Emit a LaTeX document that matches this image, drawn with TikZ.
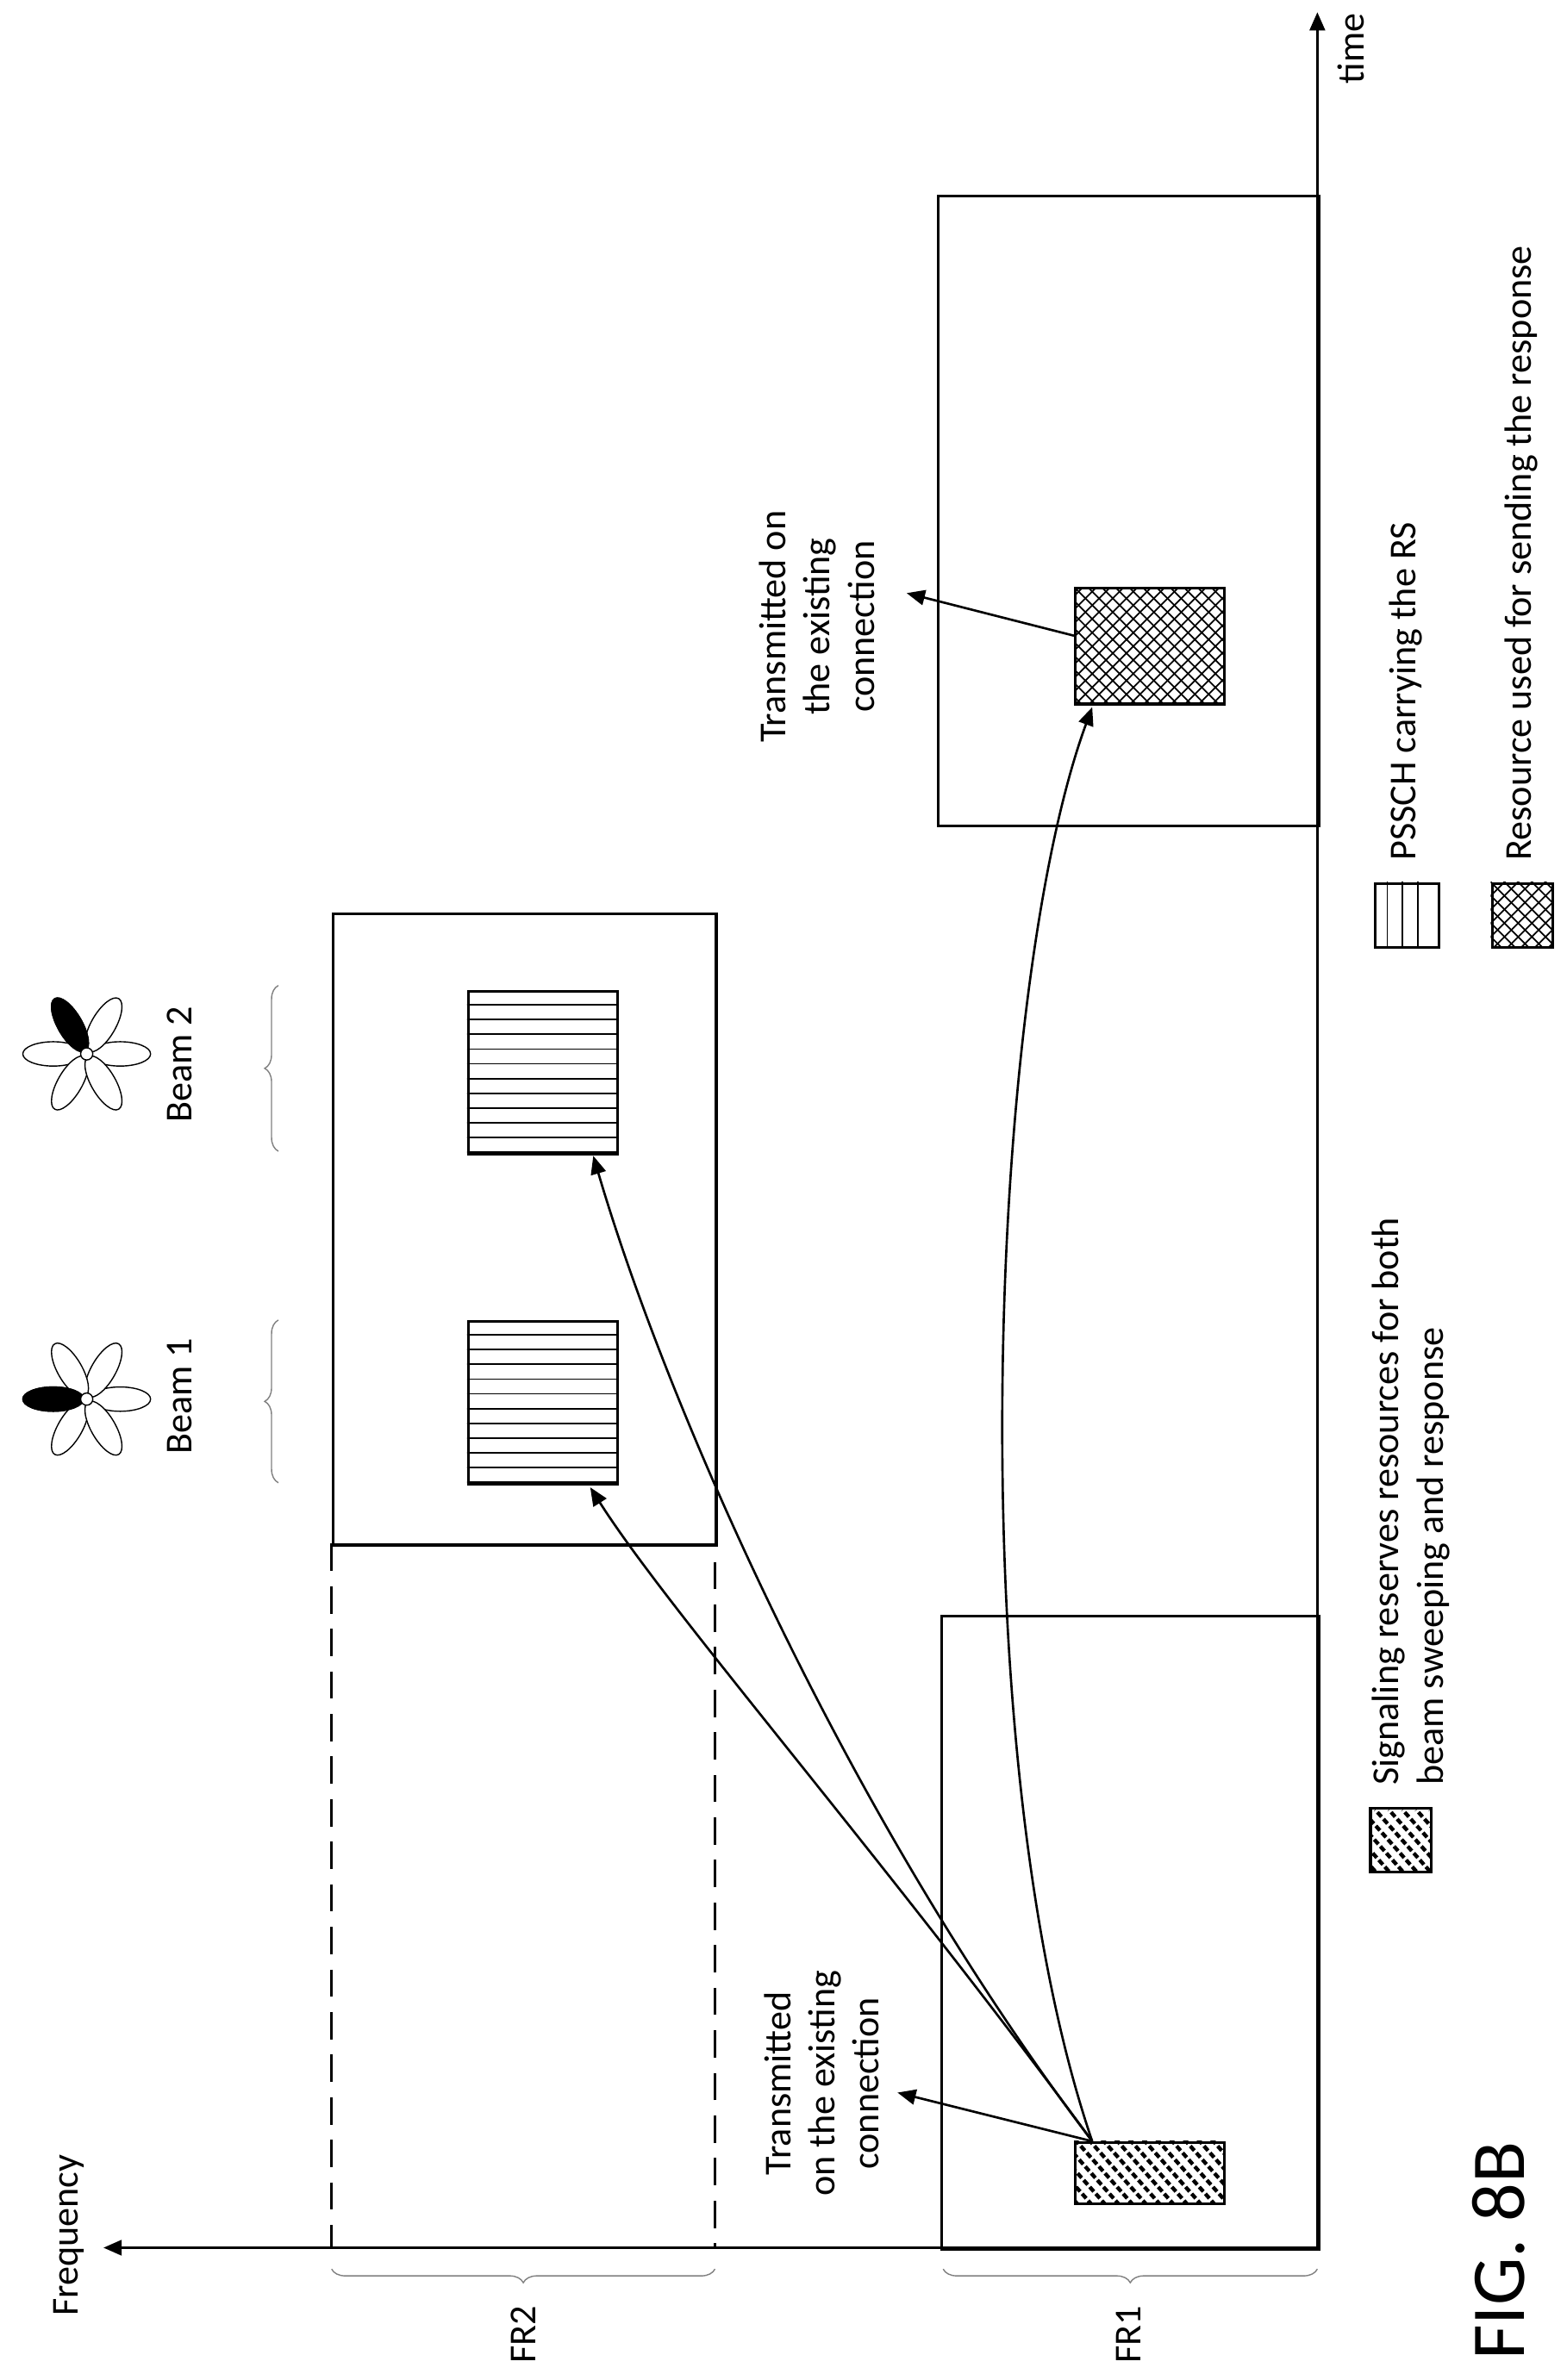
\documentclass[tikz,border=0pt]{standalone}
\usepackage{fontspec}
\setmainfont{Carlito}
\usetikzlibrary{arrows.meta,decorations.pathreplacing}
\begin{document}
\begin{tikzpicture}[x=1pt,y=1pt,line width=1.8pt,
  >={Triangle[length=12pt,width=10pt]},
  lbl/.style={rotate=90,font=\fontsize{25}{29}\selectfont,align=center},
  br/.style={decorate,decoration={brace,amplitude=9pt},line width=0.8pt,draw=gray},
  petal/.style={draw,line width=0.8pt,fill=white}]
\useasboundingbox (0,0) rectangle (1030,-1565);
% axes
\coordinate (o) at (866,-1478);
\coordinate (t) at (866,-8);
\coordinate (f) at (68,-1478);
\draw[->] (o) -- (t);
\draw[->] (o) -- (f);
\node[lbl] (time) at (888,-32) {time};
\node[lbl] (freq) at (45,-1470) {Frequency};
% FR1 boxes
\node[draw,minimum width=248pt,minimum height=416pt,inner sep=0,anchor=north west] (fr1a) at (618,-1062) {};
\node[draw,minimum width=250pt,minimum height=414pt,inner sep=0,anchor=north west] (fr1b) at (616,-128) {};
% FR2 boxes
\node[draw,minimum width=252pt,minimum height=415pt,inner sep=0,anchor=north west] (fr2b) at (218,-600) {};
\draw[dash pattern=on 18pt off 10pt] (218,-1015) -- (218,-1478) -- (470,-1478) -- (470,-1015);
% braces
\draw[br] (866,-1492) -- (620,-1492);
\draw[br] (470,-1492) -- (218,-1492);
\node[lbl] (l1) at (742,-1535) {FR1};
\node[lbl] (l2) at (344,-1535) {FR2};
\draw[br] (183,-975) -- (183,-868);
\draw[br] (183,-757) -- (183,-648);
\node[lbl] (b1) at (118,-918) {Beam 1};
\node[lbl] (b2) at (118,-700) {Beam 2};
% flowers
\foreach \cy/\blk in {920/180, 693/120}{
  \begin{scope}[shift={(57,-\cy)}]
   \foreach \a in {0,60,...,300}{
     \draw[petal,rotate=\a] (22,0) ellipse (20pt and 8pt);}
   \draw[petal,fill=black,rotate=\blk] (22,0) ellipse (20pt and 8pt);
   \draw[petal] (0,0) circle (4pt);
  \end{scope}}
% PSSCH boxes
\foreach \n/\yt in {p1/868,p2/651}{
  \begin{scope}
   \clip (307,-\yt) rectangle ++(98,-107);
   \foreach \k in {1,...,11} \draw[line width=1pt] (300,-\yt-\k*9.7) -- ++(110,0);
  \end{scope}
  \node[draw,minimum width=98pt,minimum height=107pt,inner sep=0,anchor=north west] (\n) at (307,-\yt) {};}
% signaling box
\begin{scope}
 \clip (706,-1408) rectangle (804,-1448);
 \foreach \k in {0,...,20} \draw[line width=2.5pt,dash pattern=on 4pt off 2pt] (700+\k*9,-1450) -- ++(-40,45);
\end{scope}
\node[draw,minimum width=98pt,minimum height=40pt,inner sep=0,anchor=north west] (sig) at (706,-1408) {};
% response box
\begin{scope}
 \clip (706,-386) rectangle (804,-462);
 \foreach \k in {-10,...,20}{\draw[line width=1pt] (700+\k*9,-470) -- ++(90,90);
   \draw[line width=1pt] (700+\k*9,-470) -- ++(-90,90);}
\end{scope}
\node[draw,minimum width=98pt,minimum height=76pt,inner sep=0,anchor=north west] (resp) at (706,-386) {};
% labels
\node[lbl] (tx1) at (540,-1370) {Transmitted\\on the existing\\connection};
\node[lbl] (tx2) at (537,-412) {Transmitted on\\the existing\\connection};
% arrows
\coordinate (s0) at (718,-1408);
\draw[->,line width=1.5pt] (s0) -- (590,-1376);
\draw[->,line width=1.5pt] (706,-418) -- (596,-390);
\draw[->,line width=1.5pt] (s0) .. controls (580,-1220) and (440,-1060) .. (388,-978);
\draw[->,line width=1.5pt] (s0) .. controls (560,-1200) and (440,-930) .. (390,-760);
\draw[->,line width=1.5pt] (s0) .. controls (630,-1150) and (650,-650) .. (718,-465);
% legend
\begin{scope}
 \clip (900,-1188) rectangle (940,-1230);
 \foreach \k in {0,...,12} \draw[line width=2.5pt,dash pattern=on 4pt off 2pt] (890+\k*9,-1235) -- ++(-40,45);
\end{scope}
\node[draw,minimum width=40pt,minimum height=42pt,inner sep=0,anchor=north west] (lg1) at (900,-1188) {};
\begin{scope}
 \clip (903,-580) rectangle (945,-622);
 \foreach \x in {912,922,932} \draw[line width=1pt] (\x,-578) -- (\x,-624);
\end{scope}
\node[draw,minimum width=42pt,minimum height=42pt,inner sep=0,anchor=north west] (lg2) at (903,-580) {};
\begin{scope}
 \clip (980,-580) rectangle (1020,-622);
 \foreach \k in {-10,...,10}{\draw[line width=1pt] (980+\k*9,-625) -- ++(50,50);
   \draw[line width=1pt] (980+\k*9,-625) -- ++(-50,50);}
\end{scope}
\node[draw,minimum width=40pt,minimum height=42pt,inner sep=0,anchor=north west] (lg3) at (980,-580) {};
\node[lbl,anchor=north west,align=left] (lt1) at (898,-1178) {Signaling reserves resources for both\\beam sweeping and response};
\node[lbl,anchor=west] (lt2) at (924,-570) {PSSCH carrying the RS};
\node[lbl,anchor=west] (lt3) at (1000,-570) {Resource used for sending the response};
\node[rotate=90,font=\fontsize{50}{56}\selectfont] (fig) at (985,-1480) {FIG. 8B};
\end{tikzpicture}
\end{document}
